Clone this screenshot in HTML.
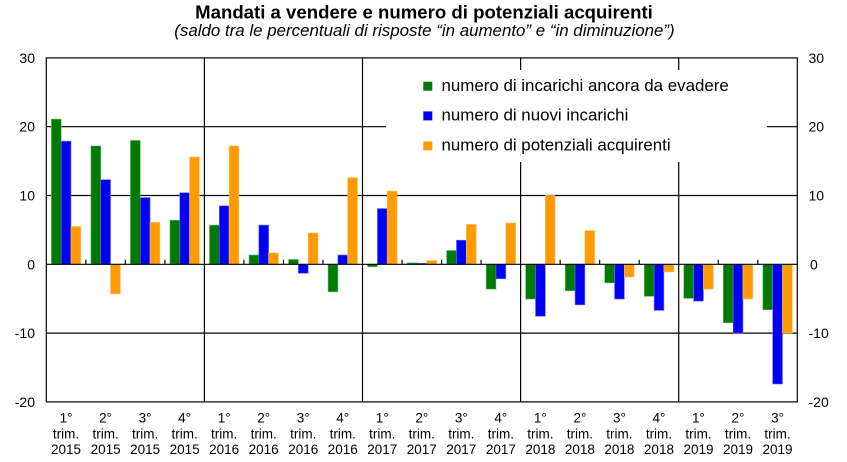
<!DOCTYPE html>
<html><head><meta charset="utf-8"><style>
html,body{margin:0;padding:0;background:#fff;}
svg{display:block;font-family:"Liberation Sans",Arial,sans-serif;}
</style></head><body>
<svg width="847" height="462" viewBox="0 0 847 462" xmlns="http://www.w3.org/2000/svg">
<text x="424" y="18.5" text-anchor="middle" font-size="18.6" font-weight="bold" fill="#000">Mandati a vendere e numero di potenziali acquirenti</text>
<text x="424.5" y="36" text-anchor="middle" font-size="16.9" font-style="italic" fill="#000">(saldo tra le percentuali di risposte “in aumento” e “in diminuzione”)</text>

<g stroke="#000" stroke-width="1.2">
<line x1="46.3" y1="126.7" x2="797.3" y2="126.7"/>
<line x1="46.3" y1="195.5" x2="797.3" y2="195.5"/>
<line x1="46.3" y1="333.1" x2="797.3" y2="333.1"/>
<line x1="204.4" y1="57.9" x2="204.4" y2="401.9"/>
<line x1="362.5" y1="57.9" x2="362.5" y2="401.9"/>
<line x1="520.6" y1="57.9" x2="520.6" y2="401.9"/>
<line x1="678.7" y1="57.9" x2="678.7" y2="401.9"/>
</g>
<rect x="386" y="70" width="381" height="92" fill="#fff"/>

<g fill="#007a00" stroke="#5fb35f" stroke-width="0.6">
<rect x="51.4" y="119.13" width="9.8" height="145.17"/>
<rect x="90.93" y="145.96" width="9.8" height="118.34"/>
<rect x="130.45" y="140.46" width="9.8" height="123.84"/>
<rect x="169.98" y="220.27" width="9.8" height="44.03"/>
<rect x="209.5" y="225.08" width="9.8" height="39.22"/>
<rect x="249.03" y="255.01" width="9.8" height="9.29"/>
<rect x="288.56" y="259.48" width="9.8" height="4.82"/>
<rect x="328.08" y="264.3" width="9.8" height="27.52"/>
<rect x="367.61" y="264.3" width="9.8" height="2.41"/>
<rect x="407.13" y="262.92" width="9.8" height="1.38"/>
<rect x="446.66" y="250.54" width="9.8" height="13.76"/>
<rect x="486.19" y="264.3" width="9.8" height="24.77"/>
<rect x="525.71" y="264.3" width="9.8" height="34.74"/>
<rect x="565.24" y="264.3" width="9.8" height="26.49"/>
<rect x="604.76" y="264.3" width="9.8" height="18.58"/>
<rect x="644.29" y="264.3" width="9.8" height="31.99"/>
<rect x="683.82" y="264.3" width="9.8" height="34.06"/>
<rect x="723.34" y="264.3" width="9.8" height="58.48"/>
<rect x="762.87" y="264.3" width="9.8" height="45.41"/>
</g>
<g fill="#0000f5" stroke="#6a6aff" stroke-width="0.6">
<rect x="61.2" y="141.15" width="9.8" height="123.15"/>
<rect x="100.73" y="179.68" width="9.8" height="84.62"/>
<rect x="140.25" y="197.56" width="9.8" height="66.74"/>
<rect x="179.78" y="192.75" width="9.8" height="71.55"/>
<rect x="219.3" y="205.82" width="9.8" height="58.48"/>
<rect x="258.83" y="225.08" width="9.8" height="39.22"/>
<rect x="298.36" y="264.3" width="9.8" height="8.94"/>
<rect x="337.88" y="255.01" width="9.8" height="9.29"/>
<rect x="377.41" y="208.57" width="9.8" height="55.73"/>
<rect x="416.93" y="263.27" width="9.8" height="1.03"/>
<rect x="456.46" y="240.22" width="9.8" height="24.08"/>
<rect x="495.99" y="264.3" width="9.8" height="14.45"/>
<rect x="535.51" y="264.3" width="9.8" height="51.94"/>
<rect x="575.04" y="264.3" width="9.8" height="40.59"/>
<rect x="614.56" y="264.3" width="9.8" height="34.74"/>
<rect x="654.09" y="264.3" width="9.8" height="46.1"/>
<rect x="693.62" y="264.3" width="9.8" height="36.81"/>
<rect x="733.14" y="264.3" width="9.8" height="68.8"/>
<rect x="772.67" y="264.3" width="9.8" height="119.71"/>
</g>
<g fill="#ff9a00" stroke="#ffc060" stroke-width="0.6">
<rect x="71.0" y="226.46" width="9.8" height="37.84"/>
<rect x="110.53" y="264.3" width="9.8" height="29.58"/>
<rect x="150.05" y="222.33" width="9.8" height="41.97"/>
<rect x="189.58" y="156.97" width="9.8" height="107.33"/>
<rect x="229.1" y="145.96" width="9.8" height="118.34"/>
<rect x="268.63" y="252.95" width="9.8" height="11.35"/>
<rect x="308.16" y="233.0" width="9.8" height="31.3"/>
<rect x="347.68" y="177.61" width="9.8" height="86.69"/>
<rect x="387.21" y="191.03" width="9.8" height="73.27"/>
<rect x="426.73" y="260.52" width="9.8" height="3.78"/>
<rect x="466.26" y="224.4" width="9.8" height="39.9"/>
<rect x="505.79" y="223.02" width="9.8" height="41.28"/>
<rect x="545.31" y="195.5" width="9.8" height="68.8"/>
<rect x="584.84" y="230.59" width="9.8" height="33.71"/>
<rect x="624.36" y="264.3" width="9.8" height="12.73"/>
<rect x="663.89" y="264.3" width="9.8" height="7.57"/>
<rect x="703.42" y="264.3" width="9.8" height="24.77"/>
<rect x="742.94" y="264.3" width="9.8" height="34.74"/>
<rect x="782.47" y="264.3" width="9.8" height="68.8"/>
</g>

<g stroke="#000" stroke-width="1.2" fill="none">
<line x1="46.3" y1="264.3" x2="797.3" y2="264.3"/>
<rect x="46.3" y="57.9" width="751" height="344"/>
<line x1="85.83" y1="259.8" x2="85.83" y2="264.3"/>
<line x1="125.35" y1="259.8" x2="125.35" y2="264.3"/>
<line x1="164.88" y1="259.8" x2="164.88" y2="264.3"/>
<line x1="243.93" y1="259.8" x2="243.93" y2="264.3"/>
<line x1="283.46" y1="259.8" x2="283.46" y2="264.3"/>
<line x1="322.98" y1="259.8" x2="322.98" y2="264.3"/>
<line x1="402.03" y1="259.8" x2="402.03" y2="264.3"/>
<line x1="441.56" y1="259.8" x2="441.56" y2="264.3"/>
<line x1="481.09" y1="259.8" x2="481.09" y2="264.3"/>
<line x1="560.14" y1="259.8" x2="560.14" y2="264.3"/>
<line x1="599.66" y1="259.8" x2="599.66" y2="264.3"/>
<line x1="639.19" y1="259.8" x2="639.19" y2="264.3"/>
<line x1="718.24" y1="259.8" x2="718.24" y2="264.3"/>
<line x1="757.77" y1="259.8" x2="757.77" y2="264.3"/>
</g>

<rect x="423.3" y="81.7" width="9" height="9" fill="#007a00"/>
<rect x="423.3" y="111.4" width="9" height="9" fill="#0000f5"/>
<rect x="423.3" y="141.4" width="9" height="9" fill="#ff9a00"/>
<g font-size="16.9" fill="#000">
<text x="441.5" y="90.8">numero di incarichi ancora da evadere</text>
<text x="441.5" y="120.6">numero di nuovi incarichi</text>
<text x="441.5" y="150.6">numero di potenziali acquirenti</text>
</g>

<g font-size="14" fill="#000" text-anchor="end">
<text x="35" y="62.9">30</text>
<text x="35" y="131.7">20</text>
<text x="35" y="200.5">10</text>
<text x="35" y="269.3">0</text>
<text x="35" y="338.1">-10</text>
<text x="35" y="406.9">-20</text>
</g>
<g font-size="14" fill="#000" text-anchor="start">
<text x="808.5" y="62.9">30</text>
<text x="808.5" y="131.7">20</text>
<text x="808.5" y="200.5">10</text>
<text x="810" y="269.3">0</text>
<text x="808.5" y="338.1">-10</text>
<text x="808.5" y="406.9">-20</text>
</g>

<g font-size="13.5" fill="#000" text-anchor="middle">
<text x="66.06" y="422.5">1°</text><text x="66.06" y="438.3">trim.</text><text x="66.06" y="454">2015</text>
<text x="105.59" y="422.5">2°</text><text x="105.59" y="438.3">trim.</text><text x="105.59" y="454">2015</text>
<text x="145.11" y="422.5">3°</text><text x="145.11" y="438.3">trim.</text><text x="145.11" y="454">2015</text>
<text x="184.64" y="422.5">4°</text><text x="184.64" y="438.3">trim.</text><text x="184.64" y="454">2015</text>
<text x="224.16" y="422.5">1°</text><text x="224.16" y="438.3">trim.</text><text x="224.16" y="454">2016</text>
<text x="263.69" y="422.5">2°</text><text x="263.69" y="438.3">trim.</text><text x="263.69" y="454">2016</text>
<text x="303.22" y="422.5">3°</text><text x="303.22" y="438.3">trim.</text><text x="303.22" y="454">2016</text>
<text x="342.74" y="422.5">4°</text><text x="342.74" y="438.3">trim.</text><text x="342.74" y="454">2016</text>
<text x="382.27" y="422.5">1°</text><text x="382.27" y="438.3">trim.</text><text x="382.27" y="454">2017</text>
<text x="421.79" y="422.5">2°</text><text x="421.79" y="438.3">trim.</text><text x="421.79" y="454">2017</text>
<text x="461.32" y="422.5">3°</text><text x="461.32" y="438.3">trim.</text><text x="461.32" y="454">2017</text>
<text x="500.85" y="422.5">4°</text><text x="500.85" y="438.3">trim.</text><text x="500.85" y="454">2017</text>
<text x="540.37" y="422.5">1°</text><text x="540.37" y="438.3">trim.</text><text x="540.37" y="454">2018</text>
<text x="579.9" y="422.5">2°</text><text x="579.9" y="438.3">trim.</text><text x="579.9" y="454">2018</text>
<text x="619.42" y="422.5">3°</text><text x="619.42" y="438.3">trim.</text><text x="619.42" y="454">2018</text>
<text x="658.95" y="422.5">4°</text><text x="658.95" y="438.3">trim.</text><text x="658.95" y="454">2018</text>
<text x="698.48" y="422.5">1°</text><text x="698.48" y="438.3">trim.</text><text x="698.48" y="454">2019</text>
<text x="738.0" y="422.5">2°</text><text x="738.0" y="438.3">trim.</text><text x="738.0" y="454">2019</text>
<text x="777.53" y="422.5">3°</text><text x="777.53" y="438.3">trim.</text><text x="777.53" y="454">2019</text>
</g>
</svg>
</body></html>
